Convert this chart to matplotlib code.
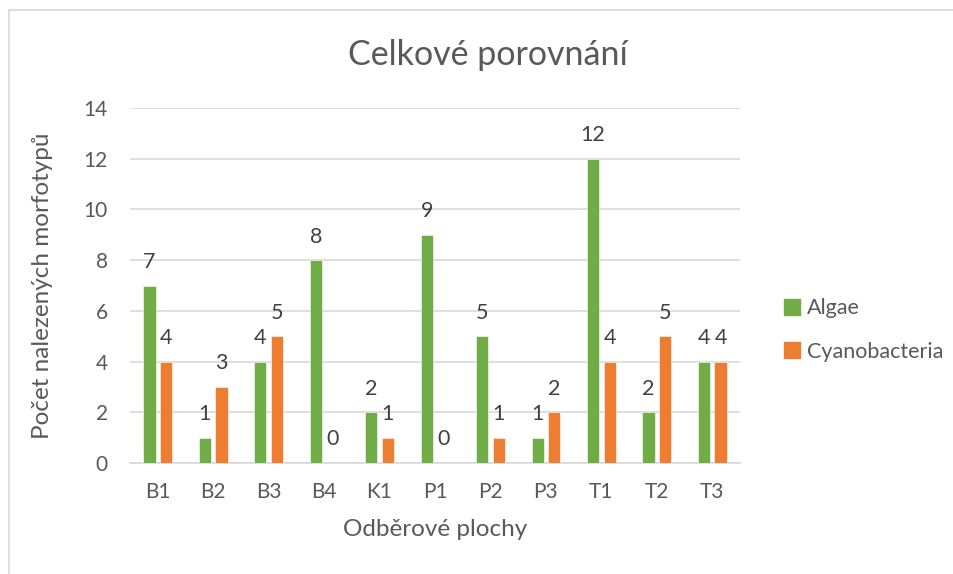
import numpy as np
import matplotlib
matplotlib.use('Agg')
import matplotlib.pyplot as plt
from matplotlib.lines import Line2D
from matplotlib.patches import Patch

plt.rcParams['font.family'] = ['Lato', 'DejaVu Sans']

categories = ['B1', 'B2', 'B3', 'B4', 'K1', 'P1', 'P2', 'P3', 'T1', 'T2', 'T3']
algae = [7, 1, 4, 8, 2, 9, 5, 1, 12, 2, 4]
cyano = [4, 3, 5, 0, 1, 0, 1, 2, 4, 5, 4]

green = '#70AD47'
orange = '#ED7D31'
txt = '#595959'
grid = '#D9D9D9'

W, H = 954, 574
fig = plt.figure(figsize=(W / 100, H / 100), dpi=100)
ax = fig.add_axes([130 / W, 1 - 463 / H, 610 / W, 355 / H])

x = np.arange(len(categories))
bw = 0.22
off = 0.149
b1 = ax.bar(x - off, algae, bw, color=green, edgecolor='white', linewidth=0.4, zorder=3)
b2 = ax.bar(x + off, cyano, bw, color=orange, edgecolor='white', linewidth=0.4, zorder=3)

for bars in (b1, b2):
    for r in bars:
        ax.annotate(f'{int(r.get_height())}', (r.get_x() + r.get_width() / 2, r.get_height()),
                    xytext=(0, 17), textcoords='offset points', ha='center', va='center',
                    fontsize=15.5, color='#404040')

ax.set_xlim(-0.5, len(categories) - 0.5)
ax.set_ylim(0, 14)
ax.set_yticks(range(0, 15, 2))
ax.set_xticks(x)
ax.set_xticklabels(categories)
ax.tick_params(axis='both', length=0, labelsize=15, colors=txt)
ax.tick_params(axis='x', pad=14)
ax.tick_params(axis='y', pad=16)
ax.yaxis.grid(True, color=grid, linewidth=1.2, zorder=0)
for s in ['top', 'right', 'left']:
    ax.spines[s].set_visible(False)
ax.spines['bottom'].set_color(grid)
ax.spines['bottom'].set_linewidth(1.2)

ax.set_xlabel('Odběrové plochy', fontsize=17.5, color=txt, labelpad=12)
ax.set_ylabel('Počet nalezených morfotypů', fontsize=17.5, color=txt, labelpad=22)

fig.text(488 / W, 1 - 55 / H, 'Celkové porovnání', ha='center', va='center',
         fontsize=24.5, color=txt)

handles = [Patch(color=green, label='Algae'), Patch(color=orange, label='Cyanobacteria')]
fig.legend(handles=handles, loc='center left', bbox_to_anchor=(784 / W, 1 - 330 / H),
           frameon=False, fontsize=15.5, labelcolor=txt, handlelength=0.75, handleheight=0.75,
           handletextpad=0.3, labelspacing=1.1, borderpad=0, borderaxespad=0)

# chart border
fig.add_artist(Line2D([9 / W, 1], [1 - 10 / H, 1 - 10 / H], color='#D9D9D9', lw=1.2))
fig.add_artist(Line2D([9 / W, 9 / W], [0, 1 - 10 / H], color='#D9D9D9', lw=1.2))

fig.savefig('out.png', dpi=100)
